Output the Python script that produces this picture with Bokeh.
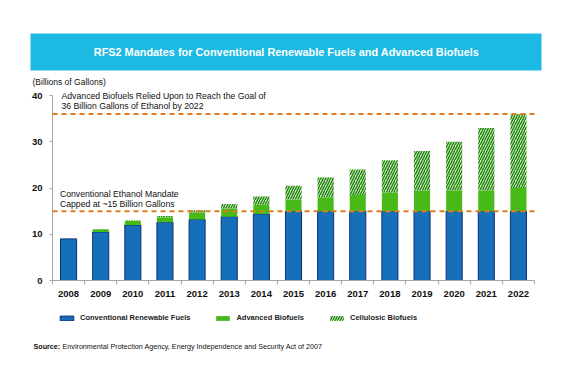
from bokeh.plotting import figure
from bokeh.models import (ColumnDataSource, Range1d, FixedTicker, Label, Legend,
                          LegendItem, BoxAnnotation)
from bokeh.embed import file_html
from bokeh.resources import INLINE

# ---- data (billions of gallons) ----
years = ["2008", "2009", "2010", "2011", "2012", "2013", "2014", "2015",
         "2016", "2017", "2018", "2019", "2020", "2021", "2022"]
conventional = [9.0, 10.5, 12.0, 12.6, 13.2, 13.8, 14.4, 15.0,
                15.0, 15.0, 15.0, 15.0, 15.0, 15.0, 15.0]
advanced = [0.0, 0.6, 0.85, 1.1, 1.5, 1.75, 2.0, 2.5,
            3.0, 3.5, 4.0, 4.5, 4.5, 4.5, 5.0]
cellulosic = [0.0, 0.0, 0.1, 0.25, 0.5, 1.0, 1.75, 3.0,
              4.25, 5.5, 7.0, 8.5, 10.5, 13.5, 16.0]
y_ticks = [0, 10, 20, 30, 40]
y_max = 40
goal_total = 36
conventional_cap = 15

title_text = "RFS2 Mandates for Conventional Renewable Fuels and Advanced Biofuels"
FONT = "Liberation Sans"
W, H = 575, 376
FL, FR, FT, FB = 52, 534, 95, 280  # plotting-area box in page pixels

n = len(years)
xs = (FR - FL) / n
ys = (FB - FT) / y_max
x_range = Range1d(-FL / xs, n + (W - FR) / xs)
y_range = Range1d(-(H - FB) / ys, y_max + FT / ys)


def sy(py):
    return H - py


xpos = [i + 0.5 for i in range(n)]
src = ColumnDataSource(dict(x=xpos, conv=conventional, adv=advanced, cell=cellulosic))

p = figure(width=W, height=H, x_range=x_range, y_range=y_range,
           toolbar_location=None, output_backend="svg", min_border=0)
p.grid.visible = False
p.outline_line_color = None

# banner
p.add_layout(BoxAnnotation(left=30, right=541, top=sy(33), bottom=sy(70),
                           left_units="screen", right_units="screen",
                           top_units="screen", bottom_units="screen",
                           fill_color="#1cb9e2", fill_alpha=1, line_color=None))
p.add_layout(Label(x=286, y=sy(51.5), x_units="screen", y_units="screen", text=title_text,
                   text_align="center", text_baseline="middle", text_color="white",
                   text_font=FONT, text_font_style="bold", text_font_size="10.9px"))
p.add_layout(Label(x=32, y=sy(81), x_units="screen", y_units="screen",
                   text="(Billions of Gallons)", text_baseline="middle", text_color="#111111",
                   text_font=FONT, text_font_size="8.5px"))

rs = p.vbar_stack(["conv", "adv", "cell"], x="x", width=0.5, source=src,
                  fill_color=["#1670b9", "#48ba18", "#d2f4ae"],
                  line_color=["#0d2c7c", None, None],
                  line_width=1,
                  hatch_pattern=[None, None, "/"],
                  hatch_color="#1e7e1e", hatch_weight=1.4, hatch_scale=5)

for loc in (goal_total, conventional_cap):
    p.segment(x0=[0], x1=[n], y0=[loc], y1=[loc], line_color="#e07c1f",
              line_dash="5 4", line_width=2)

ann_kw = dict(text_font=FONT, text_font_size="8.7px", text_color="#111111",
              text_baseline="middle", x_units="data", y_units="data")
p.add_layout(Label(x=0.28, y=40.0, text="Advanced Biofuels Relied Upon to Reach the Goal of", **ann_kw))
p.add_layout(Label(x=0.28, y=37.8, text="36 Billion Gallons of Ethanol by 2022", **ann_kw))
p.add_layout(Label(x=0.23, y=18.75, text="Conventional Ethanol Mandate", **ann_kw))
p.add_layout(Label(x=0.23, y=16.6, text="Capped at ~15 Billion Gallons", **ann_kw))

# axes
axis_color = "#a6a6a6"
p.xaxis.fixed_location = 0
p.xaxis.bounds = (0, n)
p.xaxis.ticker = FixedTicker(ticks=xpos, minor_ticks=list(range(n + 1)))
p.xaxis.major_label_overrides = {x: y for x, y in zip(xpos, years)}
p.xaxis.major_tick_line_color = None
p.xaxis.major_tick_out = 0
p.xaxis.minor_tick_out = 4
p.xaxis.minor_tick_in = 0
p.xaxis.minor_tick_line_color = axis_color
p.xaxis.major_label_standoff = 6
p.yaxis.fixed_location = 0
p.yaxis.bounds = (0, y_max)
p.yaxis.ticker = FixedTicker(ticks=y_ticks)
p.yaxis.major_tick_out = 3
p.yaxis.major_tick_in = 0
p.yaxis.major_tick_line_color = axis_color
p.yaxis.minor_tick_line_color = None
p.yaxis.major_label_standoff = 7
for ax in (p.xaxis, p.yaxis):
    ax.axis_line_color = axis_color
    ax.major_label_text_font = FONT
    ax.major_label_text_font_style = "bold"
    ax.major_label_text_font_size = "9.5px"
    ax.major_label_text_color = "#111111"

legend = Legend(items=[
    LegendItem(label="Conventional Renewable Fuels", renderers=[rs[0]]),
    LegendItem(label="Advanced Biofuels", renderers=[rs[1]]),
    LegendItem(label="Cellulosic Biofuels", renderers=[rs[2]]),
], orientation="horizontal", location=(58, sy(322)), margin=0, padding=1,
   glyph_width=17, glyph_height=6, label_standoff=5, spacing=24,
   label_text_font=FONT, label_text_font_style="bold", label_text_font_size="7.5px",
   label_text_color="#222222", border_line_color=None, background_fill_alpha=0)
p.add_layout(legend)

src_kw = dict(text_font=FONT, text_font_size="7.2px", text_color="#111111",
              text_baseline="middle", x_units="screen", y_units="screen")
p.add_layout(Label(x=33, y=sy(346), text="Source:", text_font_style="bold", **src_kw))
p.add_layout(Label(x=62, y=sy(346),
                   text="Environmental Protection Agency, Energy Independence and Security Act of 2007",
                   **src_kw))

open("out.html", "w").write(file_html(p, INLINE))
